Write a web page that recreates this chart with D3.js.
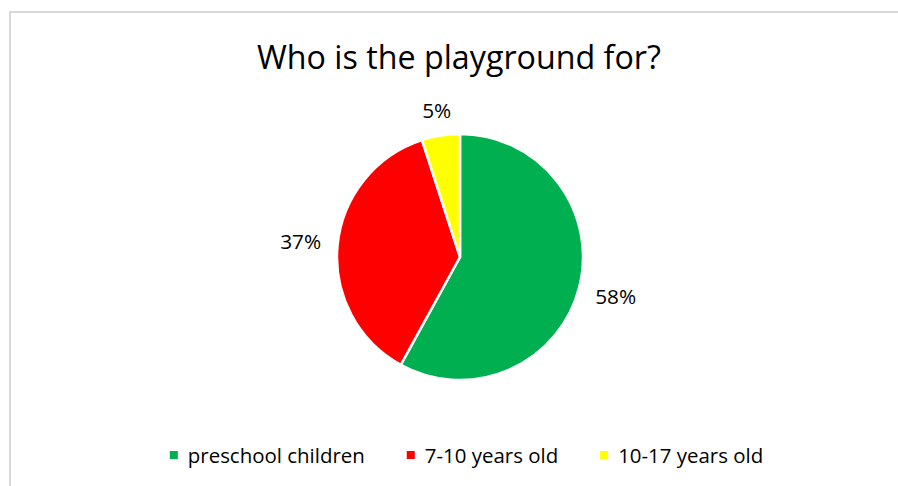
<!DOCTYPE html>
<html>
<head>
<meta charset="utf-8">
<script src="https://cdn.jsdelivr.net/npm/d3@7"></script>
<style>
  html, body { margin: 0; padding: 0; background: #fff; }
  svg { display: block; }
  text { font-family: "Open Sans", "Noto Sans", sans-serif; fill: #000; }
</style>
</head>
<body>
<svg id="chart" width="898" height="486"></svg>
<script>
// ---- data ----
const title = "Who is the playground for?";
const categories = ["preschool children", "7-10 years old", "10-17 years old"];
const values = [58, 37, 5];
const labels = ["58%", "37%", "5%"];
const colors = ["#00B050", "#FF0000", "#FFFF00"];

// ---- layout ----
const W = 898, H = 486;
const cx = 460, cy = 257, R = 123;
const svg = d3.select("#chart");

// chart frame (only top & left visible)
svg.append("rect")
  .attr("x", 10).attr("y", 12).attr("width", 950).attr("height", 600)
  .attr("fill", "none").attr("stroke", "#d9d9d9").attr("stroke-width", 2);

function fit(sel, target) {
  const base = 20;
  sel.style("font-size", base + "px");
  const len = sel.node().getComputedTextLength();
  const size = base * target / len;
  sel.style("font-size", size + "px");
  return size;
}

// title
const t = svg.append("text")
  .attr("x", 459).attr("y", 69)
  .attr("text-anchor", "middle")
  .text(title);
fit(t, 404);

// pie
const pie = d3.pie().sort(null).value(d => d)(values);
const arc = d3.arc().innerRadius(0).outerRadius(R);
const g = svg.append("g").attr("transform", `translate(${cx},${cy})`);
g.selectAll("path.slice").data(pie).join("path")
  .attr("class", "slice")
  .attr("d", arc)
  .attr("fill", (d, i) => colors[i])
  .attr("stroke", "#fff")
  .attr("stroke-width", 2.5)
  .attr("stroke-linejoin", "round");

// data labels (outside end, best-fit style)
const probe = svg.append("text").text(labels[1]);
const labelSize = fit(probe, 41);
probe.remove();
const gap = 16;
g.selectAll("text.lbl").data(pie).join("text")
  .attr("class", "lbl")
  .style("font-size", labelSize + "px")
  .attr("text-anchor", "middle")
  .text((d, i) => labels[i])
  .each(function(d) {
    const sel = d3.select(this);
    const w = this.getComputedTextLength();
    const h = labelSize * 0.72;
    const a = (d.startAngle + d.endAngle) / 2;
    const sx = Math.sin(a), sy = -Math.cos(a);
    const ext = (w / 2) * Math.abs(sx) + (h / 2) * Math.abs(sy);
    const rr = R + gap + ext;
    sel.attr("x", sx * rr).attr("y", sy * rr + h / 2);
  });

// legend
const legY = 463;
const probeL = svg.append("text").text(categories[0]);
const legSize = fit(probeL, 177);
probeL.remove();
const sq = 8, sqGap = 10, itemGap = 42;
const leg = svg.append("g");
const items = leg.selectAll("g.item").data(categories).join("g").attr("class", "item");
items.append("rect")
  .attr("width", sq).attr("height", sq)
  .attr("y", legY - 12)
  .attr("fill", (d, i) => colors[i]);
items.append("text")
  .attr("x", sq + sqGap).attr("y", legY)
  .style("font-size", legSize + "px")
  .text(d => d);
let xPos = 0;
const widths = [];
items.each(function() {
  const tw = d3.select(this).select("text").node().getComputedTextLength();
  widths.push(sq + sqGap + tw);
});
const total = d3.sum(widths) + itemGap * (widths.length - 1);
let x0 = 466.5 - total / 2;
items.attr("transform", (d, i) => {
  const x = x0;
  x0 += widths[i] + itemGap;
  return `translate(${x},0)`;
});
</script>
</body>
</html>
